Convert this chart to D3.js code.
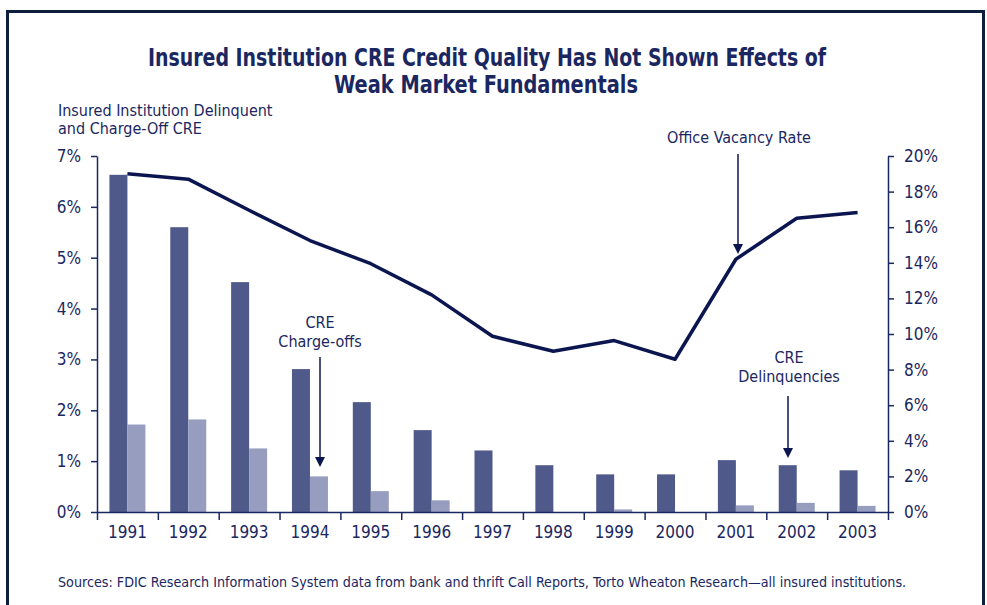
<!DOCTYPE html>
<html>
<head>
<meta charset="utf-8">
<script src="https://cdn.jsdelivr.net/npm/d3@7"></script>
<style>
  body { margin: 0; background: #fff; }
  svg text { font-family: "Liberation Sans Narrow", "DejaVu Sans Condensed", "Roboto Condensed", sans-serif; fill: #1b2761; }
</style>
</head>
<body>
<div id="chart"></div>
<script>
// Data
// ================================
var years = ["1991", "1992", "1993", "1994", "1995", "1996", "1997", "1998", "1999", "2000", "2001", "2002", "2003"];
var delinquencies = [6.63, 5.60, 4.52, 2.81, 2.16, 1.61, 1.21, 0.92, 0.74, 0.74, 1.02, 0.92, 0.82];
var chargeOffs = [1.72, 1.82, 1.25, 0.70, 0.41, 0.23, 0, 0, 0.05, 0, 0.13, 0.18, 0.12];
var vacancy = [19.0, 18.7, 16.95, 15.25, 13.95, 12.2, 9.87, 9.03, 9.63, 8.58, 14.2, 16.5, 16.82];
var leftTicks = [0, 1, 2, 3, 4, 5, 6, 7];
var rightTicks = [0, 2, 4, 6, 8, 10, 12, 14, 16, 18, 20];

// Set up chart
// ================================
var svgWidth = 987;
var svgHeight = 605;
var margin = { top: 156, right: 99, bottom: 93, left: 97 };
var width = svgWidth - margin.left - margin.right;
var height = svgHeight - margin.top - margin.bottom;

var navy = "#1b2761";
var darkBar = "#4f5a8a";
var lightBar = "#979dbf";
var lineColor = "#0b1650";

var svg = d3.select("#chart")
  .append("svg")
  .attr("width", svgWidth)
  .attr("height", svgHeight);

// frame
svg.append("rect")
  .attr("x", 7.5)
  .attr("y", 11.5)
  .attr("width", 976)
  .attr("height", 620)
  .attr("fill", "none")
  .attr("stroke", "#0d1f3c")
  .attr("stroke-width", 3);

// title (squeezed to the condensed width of the original)
var title = svg.append("text")
  .attr("text-anchor", "middle")
  .attr("font-size", "25px")
  .attr("font-weight", "bold");
title.append("tspan").attr("x", 487).attr("y", 66)
  .attr("textLength", 678).attr("lengthAdjust", "spacingAndGlyphs")
  .text("Insured Institution CRE Credit Quality Has Not Shown Effects of");
title.append("tspan").attr("x", 486).attr("y", 93)
  .attr("textLength", 304).attr("lengthAdjust", "spacingAndGlyphs")
  .text("Weak Market Fundamentals");

// left axis title
var yTitle = svg.append("text").attr("font-size", "16px");
yTitle.append("tspan").attr("x", 58).attr("y", 116).text("Insured Institution Delinquent");
yTitle.append("tspan").attr("x", 58).attr("y", 134).text("and Charge-Off CRE");

var chartGroup = svg.append("g")
  .attr("transform", `translate(${margin.left}, ${margin.top})`);

// scales
var xBand = d3.scaleBand().domain(years).range([0, width]).padding(0);
var xSub = d3.scaleBand().domain(["delinq", "charge"])
  .range([0, xBand.bandwidth()]).paddingInner(0).paddingOuter(0.69);
var xIdx = d3.scaleLinear().domain([0, years.length]).range([0, width]);
var yLeft = d3.scaleLinear().domain([0, 7]).range([height, 0]);
var yRight = d3.scaleLinear().domain([0, 20]).range([height, 0]);

// bars
chartGroup.selectAll("rect.delinq")
  .data(years)
  .enter()
  .append("rect")
  .classed("delinq", true)
  .attr("x", d => xBand(d) + xSub("delinq"))
  .attr("width", xSub.bandwidth())
  .attr("y", (d, i) => yLeft(delinquencies[i]))
  .attr("height", (d, i) => height - yLeft(delinquencies[i]))
  .attr("fill", darkBar);

chartGroup.selectAll("rect.charge")
  .data(years)
  .enter()
  .append("rect")
  .classed("charge", true)
  .attr("x", d => xBand(d) + xSub("charge"))
  .attr("width", xSub.bandwidth())
  .attr("y", (d, i) => yLeft(chargeOffs[i]))
  .attr("height", (d, i) => height - yLeft(chargeOffs[i]))
  .attr("fill", lightBar);

// vacancy line
var line = d3.line()
  .x((d, i) => xBand(years[i]) + xBand.bandwidth() / 2)
  .y(d => yRight(d));

chartGroup.append("path")
  .datum(vacancy)
  .attr("d", line)
  .attr("fill", "none")
  .attr("stroke", lineColor)
  .attr("stroke-width", 3.5)
  .attr("stroke-linejoin", "round");

// axes
function styleAxis(g) {
  g.selectAll("path, line").attr("stroke", navy).attr("stroke-width", 1.5);
  g.selectAll("text").attr("fill", navy).attr("font-size", "17px")
    .attr("font-family", "'Liberation Sans Narrow', 'DejaVu Sans Condensed', sans-serif");
}

chartGroup.append("g")
  .call(d3.axisLeft(yLeft).tickValues(leftTicks).tickSize(6).tickSizeOuter(0).tickPadding(10)
    .tickFormat(d => d + "%"))
  .call(styleAxis);

chartGroup.append("g")
  .attr("transform", `translate(${width}, 0)`)
  .call(d3.axisRight(yRight).tickValues(rightTicks).tickSize(6).tickSizeOuter(0).tickPadding(10)
    .tickFormat(d => d + "%"))
  .call(styleAxis);

chartGroup.append("g")
  .attr("transform", `translate(0, ${height})`)
  .call(d3.axisBottom(xIdx).tickValues(d3.range(years.length + 1)).tickSize(8).tickSizeOuter(0)
    .tickFormat(""))
  .call(styleAxis);

chartGroup.append("g")
  .attr("transform", `translate(0, ${height})`)
  .call(d3.axisBottom(xBand).tickSize(0).tickPadding(14))
  .call(styleAxis)
  .call(g => g.select(".domain").remove());

// annotations with arrows
function arrow(x, y1, y2) {
  chartGroup.append("line")
    .attr("x1", x).attr("x2", x)
    .attr("y1", y1).attr("y2", y2 - 9)
    .attr("stroke", lineColor)
    .attr("stroke-width", 1.5);
  chartGroup.append("path")
    .attr("d", `M${x - 5},${y2 - 10}L${x + 5},${y2 - 10}L${x},${y2}Z`)
    .attr("fill", lineColor);
}

function label(x, y, lines) {
  var t = chartGroup.append("text")
    .attr("text-anchor", "middle")
    .attr("font-size", "16px");
  lines.forEach(function (s, i) {
    t.append("tspan").attr("x", x).attr("y", y + i * 19).text(s);
  });
}

label(642, -13, ["Office Vacancy Rate"]);
arrow(641, -2, 98);

label(223, 172, ["CRE", "Charge-offs"]);
arrow(223, 201, 311);

label(692, 207, ["CRE", "Delinquencies"]);
arrow(691, 240, 302);

// footnote
svg.append("text")
  .attr("x", 58)
  .attr("y", 587)
  .attr("font-size", "14.2px")
  .text("Sources: FDIC Research Information System data from bank and thrift Call Reports, Torto Wheaton Research\u2014all insured institutions.");
</script>
</body>
</html>
